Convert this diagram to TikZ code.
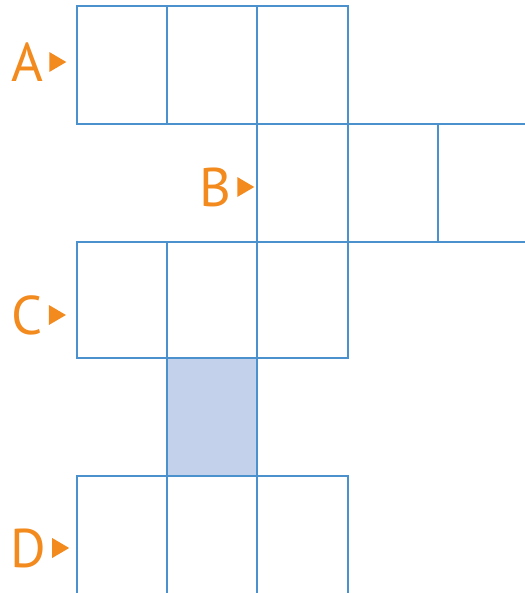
\documentclass[tikz,border=0pt]{standalone}
\usepackage{fontspec}
\setmainfont{PT Sans}
\usetikzlibrary{positioning}
\definecolor{gridblue}{HTML}{4A91CE}
\definecolor{cellshade}{HTML}{C3D2EA}
\definecolor{labelorange}{HTML}{F28A1E}

\begin{document}
\begin{tikzpicture}[
    x=0.02cm, y=-0.02cm,
    cell/.style={draw=gridblue, line width=1.5pt},
    shadedcell/.style={cell, fill=cellshade},
    rowlabel/.style={text=labelorange, font=\fontsize{31}{31}\selectfont, inner sep=0pt},
    marker/.style={fill=labelorange}
]
    \useasboundingbox (0,0) rectangle (525,593);

    % Rows of cells
    \foreach \xa/\xb in {77/167, 167/257, 257/348} {
        \draw [cell] (\xa,6) rectangle (\xb,124);     % row A
        \draw [cell] (\xa,242) rectangle (\xb,358);   % row C
        \draw [cell] (\xa,476) rectangle (\xb,610);   % row D
    }
    \foreach \xa/\xb in {257/348, 348/438, 438/545}
        \draw [cell] (\xa,124) rectangle (\xb,242);   % row B

    % Shaded cell between C and D
    \draw [shadedcell] (167,358) rectangle (257,476);

    % Row labels with markers
    \foreach \name/\lx/\ly in {A/27/62, B/215/187, C/27/315, D/28/548} {
        \node [rowlabel] (lab\name) at (\lx,\ly) {\name};
        \fill [marker] (lab\name.east) ++(6,-10) -- ++(17,10) -- ++(-17,10) -- cycle;
    }
\end{tikzpicture}
\end{document}
